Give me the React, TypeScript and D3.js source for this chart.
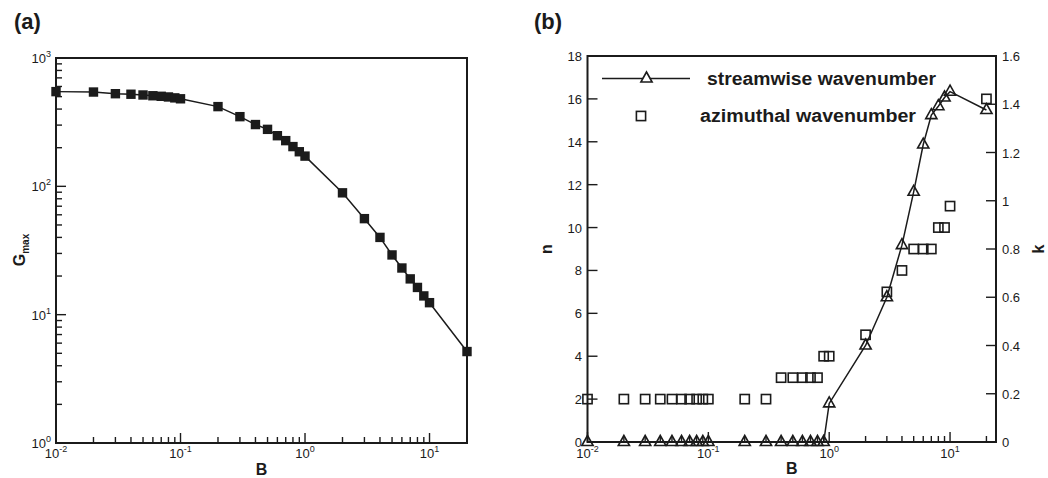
import React from "react";
import * as d3 from "d3";

// Bingham number sweep shared by both panels
const B = [
  0.01, 0.02, 0.03, 0.04, 0.05, 0.06, 0.07, 0.08, 0.09, 0.1,
  0.2, 0.3, 0.4, 0.5, 0.6, 0.7, 0.8, 0.9, 1,
  2, 3, 4, 5, 6, 7, 8, 9, 10, 20,
];

// (a) maximum transient growth
const Gmax = [
  547, 543, 527, 522, 515, 508, 503, 497, 489, 481,
  418, 349, 303, 278, 248, 227, 204, 186, 172,
  89, 56, 40, 29.2, 23.1, 19, 16.3, 14, 12.4, 5.16,
];

// (b) optimal azimuthal wavenumber n (left axis)
const azimuthalN = [
  2, 2, 2, 2, 2, 2, 2, 2, 2, 2,
  2, 2, 3, 3, 3, 3, 3, 4, 4,
  5, 7, 8, 9, 9, 9, 10, 10, 11, 16,
];

// (b) optimal streamwise wavenumber k (right axis)
const streamwiseK = [
  0, 0, 0, 0, 0, 0, 0, 0, 0, 0,
  0, 0, 0, 0, 0, 0, 0, 0, 0.16,
  0.4, 0.6, 0.816, 1.037, 1.233, 1.355, 1.392, 1.428, 1.452, 1.376,
];

const nTicks = [0, 2, 4, 6, 8, 10, 12, 14, 16, 18];
const kTicks = [0, 0.2, 0.4, 0.6, 0.8, 1, 1.2, 1.4, 1.6];
const kTickLabels = ["0", "0.2", "0.4", "0.6", "0.8", "1", "1.2", "1.4", "1.6"];

const FONT = "'Liberation Sans', Arial, Helvetica, sans-serif";
const INK = "#1b1b1b";

const isDecade = (v: number) => Math.abs(Math.log10(v) - Math.round(Math.log10(v))) < 1e-6;

function Pow10({ x, y, v, anchor }: { x: number; y: number; v: number; anchor: "start" | "middle" | "end" }) {
  const e = Math.round(Math.log10(v));
  return (
    <text x={x} y={y} textAnchor={anchor} fontSize={13} fill={INK} fontFamily={FONT}>
      <tspan>10</tspan>
      <tspan dy={-6} fontSize={9}>{String(e)}</tspan>
    </text>
  );
}

function PanelA() {
  const x = d3.scaleLog().domain([0.01, 20]).range([56, 467]);
  const y = d3.scaleLog().domain([1, 1000]).range([443, 58]);
  const xTicks = x.ticks();
  const yTicks = y.ticks();
  const pts = B.map((b, i) => [x(b), y(Gmax[i])] as [number, number]);
  const line = d3.line()(pts) ?? "";
  const [x0, x1] = x.range();
  const [y0, y1] = y.range();
  return (
    <g>
      <text x={14} y={29} fontSize={22} fontWeight="bold" fill={INK} fontFamily={FONT}>(a)</text>
      <rect x={x0} y={y1} width={x1 - x0} height={y0 - y1} fill="none" stroke={INK} strokeWidth={2} />
      {xTicks.map((t, i) => {
        const major = isDecade(t);
        return <line key={"xt" + i} x1={x(t)} x2={x(t)} y1={y0} y2={y0 - (major ? 10 : 6)} stroke={INK} strokeWidth={1.4} />;
      })}
      {yTicks.map((t, i) => {
        const major = isDecade(t);
        return <line key={"yt" + i} x1={x0} x2={x0 + (major ? 10 : 6)} y1={y(t)} y2={y(t)} stroke={INK} strokeWidth={1.4} />;
      })}
      {xTicks.filter(isDecade).map((t, i) => (
        <Pow10 key={"xl" + i} x={x(t)} y={458} v={t} anchor="middle" />
      ))}
      {yTicks.filter(isDecade).map((t, i) => (
        <Pow10 key={"yl" + i} x={51} y={y(t) + 5} v={t} anchor="end" />
      ))}
      <path d={line} fill="none" stroke={INK} strokeWidth={1.5} />
      {pts.map(([px, py], i) => (
        <rect key={"m" + i} x={px - 4.7} y={py - 4.7} width={9.4} height={9.4} fill={INK} />
      ))}
      <text x={(x0 + x1) / 2} y={475} textAnchor="middle" fontSize={16} fontWeight="bold" fill={INK} fontFamily={FONT}>B</text>
      <text transform={`translate(25,250) rotate(-90)`} textAnchor="middle" fontSize={16} fontWeight="bold" fill={INK} fontFamily={FONT}>
        <tspan>G</tspan>
        <tspan dy={4} fontSize={10}>max</tspan>
      </text>
    </g>
  );
}

function triPath(cx: number, cy: number) {
  return `M${cx},${cy - 6.5}L${cx + 5.6},${cy + 3.5}L${cx - 5.6},${cy + 3.5}Z`;
}

function PanelB() {
  const x = d3.scaleLog().domain([0.01, 24]).range([587.5, 996]);
  const yN = d3.scaleLinear().domain([0, 18]).range([442, 56]);
  const yK = d3.scaleLinear().domain([0, 1.6]).range([442, 56]);
  const xTicks = x.ticks();
  const [x0, x1] = x.range();
  const [y0, y1] = yN.range();
  const kPts = B.map((b, i) => [x(b), yK(streamwiseK[i])] as [number, number]);
  const nPts = B.map((b, i) => [x(b), yN(azimuthalN[i])] as [number, number]);
  const kLine = d3.line()(kPts) ?? "";
  return (
    <g>
      <text x={534} y={29} fontSize={22} fontWeight="bold" fill={INK} fontFamily={FONT}>(b)</text>
      <rect x={x0} y={y1} width={x1 - x0} height={y0 - y1} fill="none" stroke={INK} strokeWidth={2} />
      {xTicks.map((t, i) => {
        const major = isDecade(t);
        return <line key={"xt" + i} x1={x(t)} x2={x(t)} y1={y0} y2={y0 - (major ? 10 : 6)} stroke={INK} strokeWidth={1.4} />;
      })}
      {nTicks.map((t, i) => (
        <g key={"nt" + i}>
          <line x1={x0} x2={x0 + 10} y1={yN(t)} y2={yN(t)} stroke={INK} strokeWidth={1.4} />
          <text x={582} y={yN(t) + 5} textAnchor="end" fontSize={13} fill={INK} fontFamily={FONT}>{t}</text>
        </g>
      ))}
      {kTicks.map((t, i) => (
        <g key={"kt" + i}>
          <line x1={x1} x2={x1 - 10} y1={yK(t)} y2={yK(t)} stroke={INK} strokeWidth={1.4} />
          <text x={1002} y={yK(t) + 5} textAnchor="start" fontSize={13} fill={INK} fontFamily={FONT}>{kTickLabels[i]}</text>
        </g>
      ))}
      {xTicks.filter(isDecade).map((t, i) => (
        <Pow10 key={"xl" + i} x={x(t)} y={458} v={t} anchor="middle" />
      ))}
      <path d={kLine} fill="none" stroke={INK} strokeWidth={1.5} />
      {nPts.map(([px, py], i) => (
        <rect key={"s" + i} x={px - 4.6} y={py - 4.6} width={9.2} height={9.2} fill="none" stroke={INK} strokeWidth={1.6} />
      ))}
      {kPts.map(([px, py], i) => (
        <path key={"t" + i} d={triPath(px, py)} fill="none" stroke={INK} strokeWidth={1.6} />
      ))}
      {/* legend */}
      <line x1={602} x2={690} y1={78.5} y2={78.5} stroke={INK} strokeWidth={1.5} />
      <path d={triPath(646.5, 78.5)} fill="#fff" stroke={INK} strokeWidth={1.6} />
      <text x={707} y={85} fontSize={18} fontWeight="bold" fill={INK} fontFamily={FONT} textLength={229} lengthAdjust="spacingAndGlyphs">streamwise wavenumber</text>
      <rect x={641 - 4.6} y={116 - 4.6} width={9.2} height={9.2} fill="none" stroke={INK} strokeWidth={1.6} />
      <text x={700} y={121.5} fontSize={18} fontWeight="bold" fill={INK} fontFamily={FONT} textLength={216} lengthAdjust="spacingAndGlyphs">azimuthal wavenumber</text>
      {/* axis titles */}
      <text x={(x0 + x1) / 2} y={474} textAnchor="middle" fontSize={16} fontWeight="bold" fill={INK} fontFamily={FONT}>B</text>
      <text transform={`translate(552,249) rotate(-90)`} textAnchor="middle" fontSize={16} fontWeight="bold" fill={INK} fontFamily={FONT}>n</text>
      <text transform={`translate(1044,249) rotate(-90)`} textAnchor="middle" fontSize={16} fontWeight="bold" fill={INK} fontFamily={FONT}>k</text>
    </g>
  );
}

export default function App() {
  return (
    <svg
      width={1048}
      height={478}
      viewBox="0 0 1048 478"
      style={{ position: "absolute", left: 0, top: 0, background: "#fff" }}
    >
      <PanelA />
      <PanelB />
    </svg>
  );
}
